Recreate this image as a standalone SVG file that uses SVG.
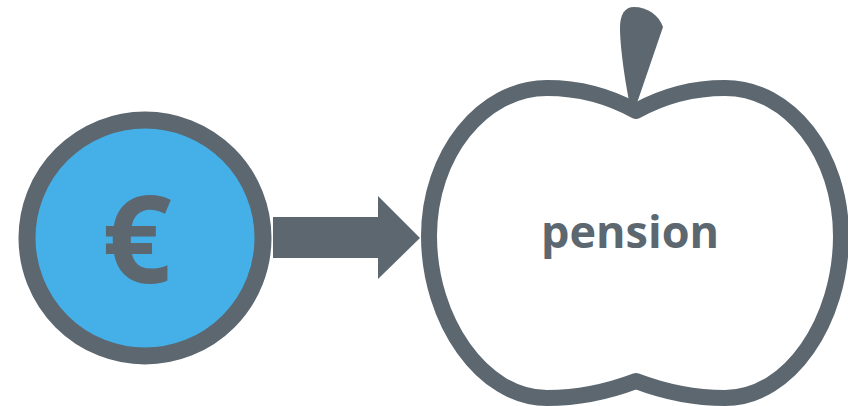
<svg xmlns="http://www.w3.org/2000/svg" width="848" height="406" viewBox="0 0 848 406">
<style>
.s{fill:#5c6770}
.t{fill:#5c6770;font-family:"Open Sans","Noto Sans",sans-serif;font-weight:700}
</style>
<rect width="848" height="406" fill="#fff"/>
<g id="connectors"><path class="s" d="M273 217H378V196L420 238L378 279V258H273Z"/></g>
<g id="euro"><circle cx="145" cy="238" r="118" fill="#45b0e8" stroke="#5c6770" stroke-width="17"/><text class="t" x="137" y="283" font-size="122" text-anchor="middle">€</text></g>
<g id="pension">
<path class="s" d="M629 101C624 75 620 45 620 28C620 14 625 7 634 7C647 7 659 15 663 27L637 103Z"/>
<path d="M636 111C665 95 695 88 725 88C790 88 841 155 841 236C841 320 790 398 725 398C695 398 665 392 636 381C607 392 577 398 547 398C482 398 429 320 429 236C429 155 482 88 547 88C577 88 607 95 636 111Z" fill="#fff" stroke="#5c6770" stroke-width="16" stroke-linejoin="round"/>
<text class="t" x="630" y="248" font-size="45" text-anchor="middle">pension</text>
</g>
</svg>
